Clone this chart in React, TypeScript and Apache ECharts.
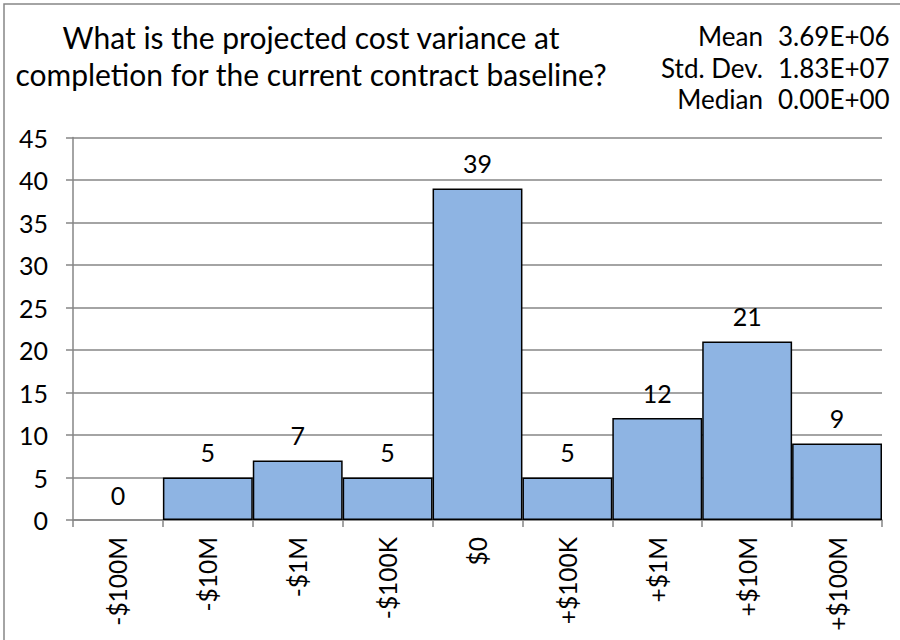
import React, { useEffect, useRef } from "react";
import * as echarts from "echarts";

const categories = ["-$100M", "-$10M", "-$1M", "-$100K", "$0", "+$100K", "+$1M", "+$10M", "+$100M"];
const counts = [0, 5, 7, 5, 39, 5, 12, 21, 9];
const titleLines = ["What is the projected cost variance at", "completion for the current contract baseline?"];
const statLabels = ["Mean", "Std. Dev.", "Median"];
const statValues = ["3.69E+06", "1.83E+07", "0.00E+00"];

const FONT = "Lato";

export default function App() {
  const ref = useRef<HTMLDivElement>(null);
  useEffect(() => {
    if (!ref.current) return;
    const chart = echarts.init(ref.current, null, { renderer: "svg" });
    const graphics: any[] = [
      {
        type: "rect",
        shape: { x: 4, y: 4, width: 900, height: 640 },
        style: { fill: "none", stroke: "#868686", lineWidth: 1.5 },
        silent: true,
      },
    ];
    titleLines.forEach((t, i) => {
      graphics.push({
        type: "text",
        x: 311,
        y: 37 + i * 36.5,
        style: { text: t, fill: "#000", font: `30px ${FONT}`, textAlign: "center", textVerticalAlign: "middle" },
      });
    });
    statLabels.forEach((t, i) => {
      graphics.push({
        type: "text",
        x: 763,
        y: 36 + i * 31.7,
        style: { text: t, fill: "#000", font: `26px ${FONT}`, textAlign: "right", textVerticalAlign: "middle" },
      });
      graphics.push({
        type: "text",
        x: 778,
        y: 36 + i * 31.7,
        style: { text: statValues[i], fill: "#000", font: `26px ${FONT}`, textAlign: "left", textVerticalAlign: "middle" },
      });
    });

    chart.setOption({
      animation: false,
      backgroundColor: "#fff",
      grid: { left: 73, right: 18, top: 137.5, bottom: 120, containLabel: false },
      xAxis: {
        type: "category",
        data: categories,
        boundaryGap: true,
        axisLine: { show: true, lineStyle: { color: "#868686", width: 1.5 } },
        axisTick: { show: true, length: 7, lineStyle: { color: "#868686", width: 1.5 } },
        axisLabel: { rotate: 90, margin: 17, fontSize: 24.5, fontFamily: FONT, color: "#000", interval: 0 },
      },
      yAxis: {
        type: "value",
        min: 0,
        max: 45,
        interval: 5,
        axisLine: { show: true, lineStyle: { color: "#868686", width: 1.5 } },
        axisTick: { show: true, length: 7, lineStyle: { color: "#868686", width: 1.5 } },
        splitLine: { show: true, lineStyle: { color: "#868686", width: 1.5 } },
        axisLabel: { margin: 25, fontSize: 25, fontFamily: FONT, color: "#000" },
      },
      series: [
        {
          type: "bar",
          barCategoryGap: "0%",
          data: counts.map((v) => (v === 0 ? { value: v, itemStyle: { borderWidth: 0 } } : v)),
          itemStyle: { color: "#8EB4E3", borderColor: "#000", borderWidth: 1.5 },
          label: {
            show: true,
            position: "top",
            distance: 13,
            fontSize: 25,
            fontFamily: FONT,
            color: "#000",
          },
        },
      ],
      graphic: graphics,
    });
    return () => chart.dispose();
  }, []);
  return <div ref={ref} style={{ position: "absolute", left: 0, top: 0, width: 900, height: 640 }} />;
}
